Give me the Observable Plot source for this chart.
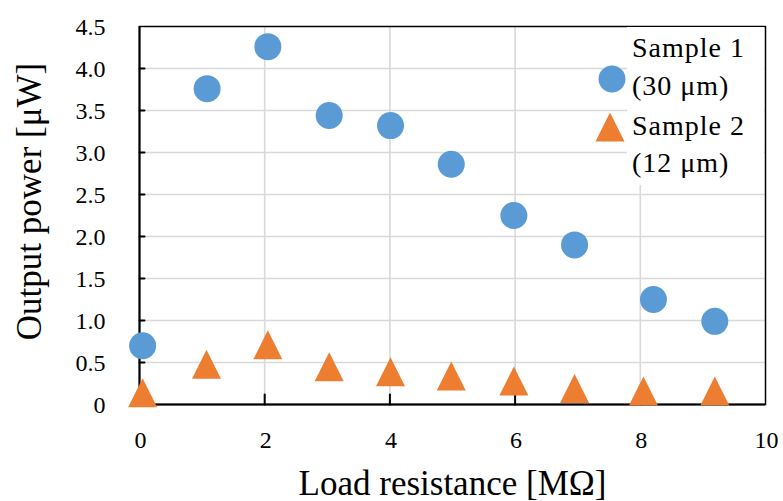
<!DOCTYPE html>
<html>
<head>
<meta charset="utf-8">
<script src="https://cdn.jsdelivr.net/npm/d3@7"></script>
<script src="https://cdn.jsdelivr.net/npm/@observablehq/plot@0.6"></script>
<style>
  body { margin: 0; background: white; }
  #wrap { position: relative; width: 783px; height: 501px; font-family: "Liberation Serif", serif; }
  #wrap svg, #wrap svg text { font-family: "Liberation Serif", serif !important; }
  #wrap svg g[aria-label="x-tick-label"] text, #wrap svg g[aria-label="y-tick-label"] text { letter-spacing: 2.5px; }
  #wrap svg g[aria-label="axis-title"] text { letter-spacing: 1px; }
  #legend { position: absolute; left: 627px; top: 27px; width: 137px; height: 158px; background: white; }
  #legend div { position: absolute; left: 5px; font-family: "Liberation Serif", serif; font-size: 28px; letter-spacing: 1px; line-height: 1; white-space: nowrap; }
  #legmarks { position: absolute; left: 590px; top: 50px; }
</style>
</head>
<body>
<div id="wrap"></div>
<script>
// Data
const loadS1 = [0.05, 1.08, 2.05, 3.03, 4.01, 4.98, 5.98, 6.95, 8.21, 9.19];
const powerS1 = [0.70, 3.76, 4.26, 3.44, 3.32, 2.86, 2.25, 1.90, 1.25, 0.99];
const loadS2 = [0.05, 1.07, 2.05, 3.03, 4.01, 4.98, 5.98, 6.95, 8.05, 9.19];
const powerS2 = [0.14, 0.48, 0.71, 0.45, 0.39, 0.34, 0.28, 0.19, 0.16, 0.16];
const xTicks = [0, 2, 4, 6, 8, 10];
const yTicks = [0, 0.5, 1.0, 1.5, 2.0, 2.5, 3.0, 3.5, 4.0, 4.5];
const seriesNames = ["Sample 1", "(30 μm)", "Sample 2", "(12 μm)"];
const xTitle = "Load resistance [MΩ]";
const yTitle = "Output power [μW]";

const blue = "#5B9BD5";
const orange = "#ED7D31";
const serif = "Liberation Serif";

const s1 = loadS1.map((x, i) => ({x, y: powerS1[i]}));
const s2 = loadS2.map((x, i) => ({x, y: powerS2[i]}));
const yFmt = d => d === 0 ? "0" : d.toFixed(1);

const tri = {
  draw(context, size) {
    const h = Math.sqrt(size / Math.PI);
    context.moveTo(0, -h);
    context.lineTo(h, h);
    context.lineTo(-h, h);
    context.closePath();
  }
};
const tickShape = {
  draw(context, l) {
    context.moveTo(0, 0);
    context.lineTo(0, -l);
  }
};

const chart = Plot.plot({
  width: 783,
  height: 501,
  marginLeft: 139,
  marginRight: 18,
  marginTop: 26,
  marginBottom: 97,
  style: {fontFamily: serif, fontSize: "24px", color: "black", background: "white"},
  x: {domain: [0, 10], axis: null},
  y: {domain: [0, 4.5], axis: null},
  marks: [
    Plot.gridY(yTicks.filter(d => d > 0 && d < 4.5), {stroke: "#d9d9d9", strokeOpacity: 1, strokeWidth: 1.6}),
    Plot.gridX(xTicks.filter(d => d > 0 && d < 10), {stroke: "#d9d9d9", strokeOpacity: 1, strokeWidth: 1.6}),
    Plot.frame({stroke: "black", strokeWidth: 1.5}),
    Plot.ruleX([0], {stroke: "black", strokeWidth: 2}),
    Plot.ruleY([0], {stroke: "black", strokeWidth: 2}),
    Plot.vector(xTicks.filter(d => d > 0 && d < 10), {x: d => d, y: 0, length: 10, rotate: 0, anchor: "start", shape: tickShape, stroke: "black", strokeWidth: 2}),
    Plot.vector(yTicks.filter(d => d > 0 && d < 4.5), {x: 0, y: d => d, length: 5, rotate: 90, anchor: "start", shape: tickShape, stroke: "black", strokeWidth: 2}),
    Plot.text(xTicks, {ariaLabel: "x-tick-label", x: d => d, frameAnchor: "bottom", textAnchor: "middle", lineAnchor: "top", dx: 1, dy: 26, fontSize: 24, fontFamily: serif, text: d => String(d)}),
    Plot.text(yTicks, {ariaLabel: "y-tick-label", y: d => d, frameAnchor: "left", textAnchor: "end", lineAnchor: "middle", dx: -34, dy: 1, fontSize: 24, fontFamily: serif, text: yFmt}),
    Plot.text([xTitle], {ariaLabel: "axis-title", frameAnchor: "bottom", textAnchor: "middle", lineAnchor: "bottom", dy: 90, fontSize: 35, fontFamily: serif, text: d => d}),
    Plot.text([yTitle], {ariaLabel: "axis-title", frameAnchor: "left", textAnchor: "middle", lineAnchor: "middle", dx: -110, dy: -14, rotate: -90, fontSize: 35, fontFamily: serif, text: d => d}),
    Plot.dot(s1, {x: "x", y: "y", r: 13.5, fill: blue, symbol: "circle"}),
    Plot.dot(s2, {x: "x", y: "y", r: 14.5, fill: orange, symbol: tri})
  ]
});

const wrap = document.getElementById("wrap");
wrap.appendChild(chart);

// Legend overlay
const leg = document.createElement("div");
leg.id = "legend";
const tops = [7, 45, 85, 122];
seriesNames.forEach((t, i) => {
  const d = document.createElement("div");
  d.textContent = t;
  d.style.top = tops[i] + "px";
  leg.appendChild(d);
});
wrap.appendChild(leg);

const ns = "http://www.w3.org/2000/svg";
const ms = document.createElementNS(ns, "svg");
ms.setAttribute("width", 40);
ms.setAttribute("height", 100);
ms.id = "legmarks";
const c = document.createElementNS(ns, "circle");
c.setAttribute("cx", 22); c.setAttribute("cy", 29); c.setAttribute("r", 13.5); c.setAttribute("fill", blue);
ms.appendChild(c);
const p = document.createElementNS(ns, "path");
p.setAttribute("d", "M20,62.5L34.5,91.5L5.5,91.5Z");
p.setAttribute("fill", orange);
ms.appendChild(p);
wrap.appendChild(ms);
</script>
</body>
</html>
